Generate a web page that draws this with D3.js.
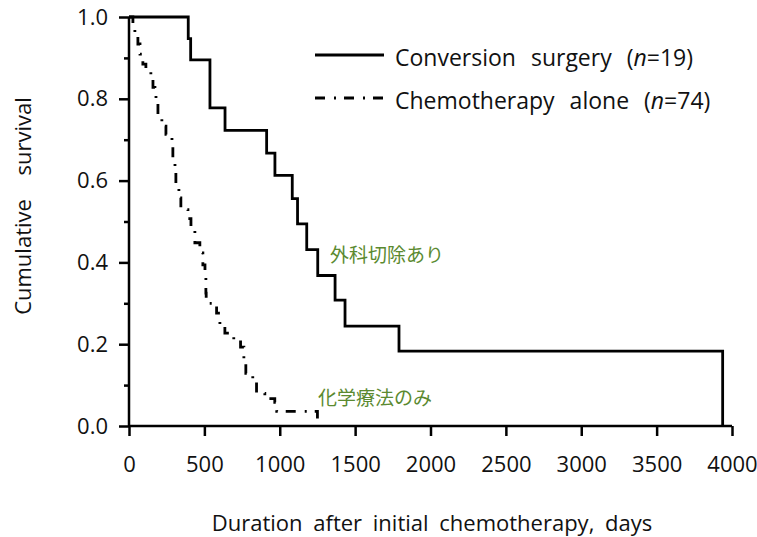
<!DOCTYPE html>
<html>
<head>
<meta charset="utf-8">
<script src="https://cdn.jsdelivr.net/npm/d3@7"></script>
<style>
  body { margin: 0; background: #fff; }
</style>
</head>
<body>
<div id="chart"></div>
<script>
'use strict';

// Conversion surgery (n=19): step times (days) and survival after each step
var surgeryDays = [0, 393, 409, 537, 637, 913, 968, 1083, 1118, 1179, 1252, 1367, 1433, 1791, 3938];
var surgerySurv = [1.0, 0.947, 0.895, 0.778, 0.723, 0.667, 0.613, 0.556, 0.494, 0.431, 0.368, 0.308, 0.244, 0.183, 0];

// Chemotherapy alone (n=74)
var chemoDays = [0, 26, 39, 59, 73, 92, 112, 145, 159, 172, 179, 192, 218, 245, 285, 291, 305, 311, 331, 344,
                 391, 411, 437, 470, 490, 504, 510, 512, 581, 603, 636, 695, 740, 762, 775, 821, 846, 901, 967, 980, 1250];
var chemoSurv = [1.0, 0.983, 0.963, 0.934, 0.909, 0.885, 0.867, 0.855, 0.828, 0.809, 0.791, 0.762, 0.733, 0.713, 0.683, 0.652, 0.620, 0.580, 0.558, 0.529,
                 0.507, 0.477, 0.448, 0.423, 0.394, 0.362, 0.325, 0.300, 0.276, 0.249, 0.227, 0.210, 0.193, 0.161, 0.129, 0.109, 0.080, 0.067, 0.058, 0.036, 0.013];

var xTicks = [0, 500, 1000, 1500, 2000, 2500, 3000, 3500, 4000];
var yMajor = [0, 0.2, 0.4, 0.6, 0.8, 1.0];
var yMinor = [0.1, 0.3, 0.5, 0.7, 0.9];

var legendLabels = [
    {pre: "Conversion surgery (", n: "n", post: "=19)"},
    {pre: "Chemotherapy alone (", n: "n", post: "=74)"}
];
var annotations = ["外科切除あり", "化学療法のみ"];

var W = 757, H = 537;
var font = "'Open Sans', sans-serif";
var dashDot = "10,9,2,8";

var svg = d3.select("#chart").append("svg")
    .attr("width", W).attr("height", H);

var x = d3.scaleLinear().domain([0, 4000]).range([129, 732]);
var y = d3.scaleLinear().domain([0, 1]).range([426, 17]);

// axes
var xAxis = svg.append("g").attr("transform", "translate(0," + y(0) + ")")
    .call(d3.axisBottom(x).tickValues(xTicks).tickFormat(d3.format("d")).tickSize(10).tickPadding(20));
var yAxis = svg.append("g").attr("transform", "translate(" + x(0) + ",0)")
    .call(d3.axisLeft(y).tickValues(yMajor).tickFormat(d3.format(".1f")).tickSize(10).tickPadding(11));
svg.append("g").attr("transform", "translate(" + x(0) + ",0)")
    .call(d3.axisLeft(y).tickValues(yMinor).tickFormat("").tickSize(5))
    .select(".domain").remove();

svg.selectAll(".domain").attr("stroke", "#000").attr("stroke-width", 2.5);
svg.selectAll(".tick line").attr("stroke", "#000").attr("stroke-width", 2.5);
svg.selectAll(".tick text").attr("font-family", font).attr("font-size", "22px").attr("fill", "#111");
xAxis.select(".domain").attr("d", "M" + x(0) + ",0H" + x(4000));
yAxis.select(".domain").attr("d", "M0," + y(1) + "V" + y(0));

// curves
var line = d3.line()
    .x(function(d) { return x(d[0]); })
    .y(function(d) { return y(d[1]); })
    .curve(d3.curveStepAfter);

svg.append("path")
    .datum(d3.zip(surgeryDays, surgerySurv))
    .attr("d", line)
    .attr("fill", "none").attr("stroke", "#000").attr("stroke-width", 2.8);

svg.append("path")
    .datum(d3.zip(chemoDays, chemoSurv))
    .attr("d", line)
    .attr("fill", "none").attr("stroke", "#000").attr("stroke-width", 2.8)
    .attr("stroke-dasharray", dashDot);

// legend
var legend = svg.append("g");
legendLabels.forEach(function(l, i) {
    var ly = 55 + i * 43;
    legend.append("line")
        .attr("x1", 315).attr("x2", 384).attr("y1", ly).attr("y2", ly)
        .attr("stroke", "#000").attr("stroke-width", 2.8)
        .attr("stroke-dasharray", i === 0 ? null : dashDot);
    var t = legend.append("text")
        .attr("x", 395).attr("y", ly + 11)
        .attr("font-family", font).attr("font-size", "23px")
        .attr("word-spacing", "9px").attr("fill", "#111");
    t.append("tspan").text(l.pre);
    t.append("tspan").attr("font-style", "italic").text(l.n);
    t.append("tspan").text(l.post);
});

// annotations
svg.append("text").attr("x", 330).attr("y", 262).text(annotations[0])
    .attr("font-family", "'Noto Sans CJK JP'").attr("font-size", "19px").attr("fill", "#5b8a30");
svg.append("text").attr("x", 318).attr("y", 405).text(annotations[1])
    .attr("font-family", "'Noto Sans CJK JP'").attr("font-size", "19px").attr("fill", "#5b8a30");

// axis titles
svg.append("text")
    .attr("transform", "translate(31,206) rotate(-90)")
    .attr("text-anchor", "middle")
    .attr("font-family", font).attr("font-size", "22px")
    .attr("word-spacing", "18px").attr("fill", "#111")
    .text("Cumulative survival");
svg.append("text")
    .attr("x", 432).attr("y", 531)
    .attr("text-anchor", "middle")
    .attr("font-family", font).attr("font-size", "22px")
    .attr("word-spacing", "5px").attr("fill", "#111")
    .text("Duration after initial chemotherapy, days");
</script>
</body>
</html>
